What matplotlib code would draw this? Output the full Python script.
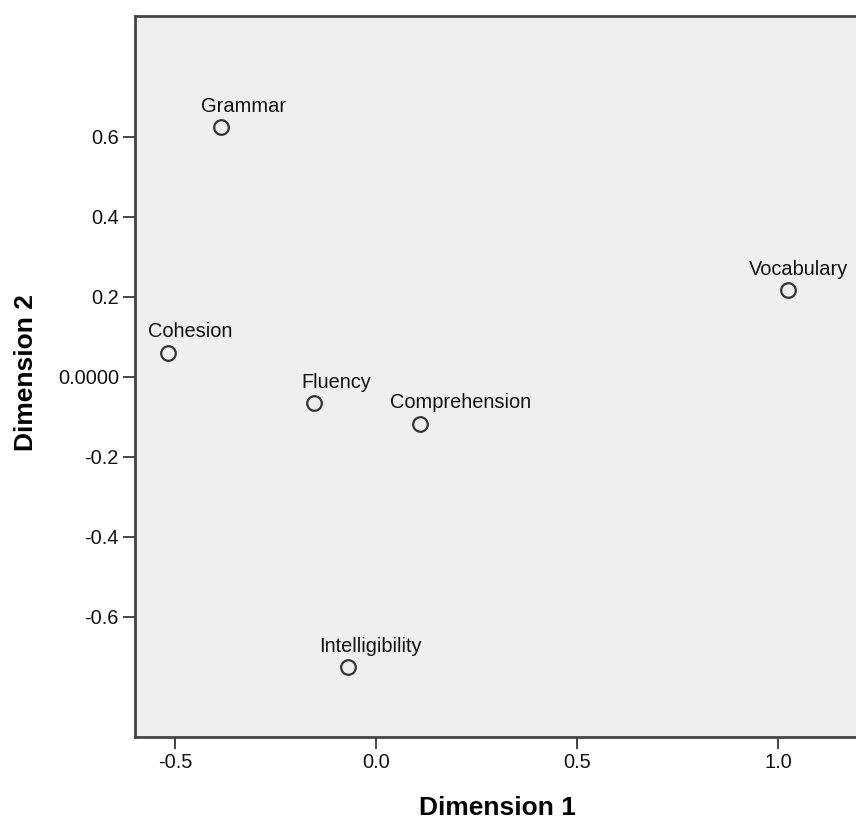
import matplotlib
matplotlib.use("Agg")
import matplotlib.pyplot as plt

# point labels and coordinates
labels = ["Grammar", "Vocabulary", "Cohesion", "Fluency", "Comprehension", "Intelligibility"]
dim1 = [-0.386, 1.026, -0.518, -0.154, 0.109, -0.069]
dim2 = [0.623, 0.216, 0.0605, -0.0655, -0.117, -0.7255]

yticks = [0.6, 0.4, 0.2, 0.0, -0.2, -0.4, -0.6]
yticklabels = ["0.6", "0.4", "0.2", "0.0000", "-0.2", "-0.4", "-0.6"]
xticks = [-0.5, 0.0, 0.5, 1.0]
xticklabels = ["-0.5", "0.0", "0.5", "1.0"]

plt.rcParams["font.family"] = ["Liberation Sans", "DejaVu Sans"]

bg = "#efefef"
edge = "#444444"

fig = plt.figure(figsize=(8.56, 8.21), dpi=100)
ax = fig.add_axes([135/856, 1 - 737/821, (858.4 - 135)/856, (737 - 15.7)/821])
ax.set_facecolor(bg)

ax.plot(dim1, dim2, linestyle="none", marker="o", markersize=10.5,
        markerfacecolor=bg, markeredgecolor="#333333", markeredgewidth=1.6)

# label offsets in points (x)
for i, name in enumerate(labels):
    if name == "Comprehension":
        dx = 29
    elif name == "Vocabulary":
        dx = 7.5
    else:
        dx = 16
    ax.annotate(name, (dim1[i], dim2[i]), xytext=(dx, 11), textcoords="offset points",
                ha="center", va="baseline", fontsize=14.4, color="#111111")

ax.set_xlim(-0.6, 1.2)
ax.set_ylim(-0.9, 0.902)
ax.set_xticks(xticks)
ax.set_xticklabels(xticklabels)
ax.set_yticks(yticks)
ax.set_yticklabels(yticklabels)
ax.tick_params(axis="both", direction="out", length=8.6, width=1.4, color=edge,
               labelsize=14.4, labelcolor="#111111", pad=3)

for s in ax.spines.values():
    s.set_color(edge)
    s.set_linewidth(2)
ax.spines["right"].set_visible(False)

fig.text(26/856, 1 - 373/821, "Dimension 2", rotation=90, ha="center", va="center",
         fontsize=19, fontweight="bold")
fig.text(497/856, 1 - 808/821, "Dimension 1", ha="center", va="center",
         fontsize=19, fontweight="bold")

fig.savefig("out.png", dpi=100, facecolor="white")
